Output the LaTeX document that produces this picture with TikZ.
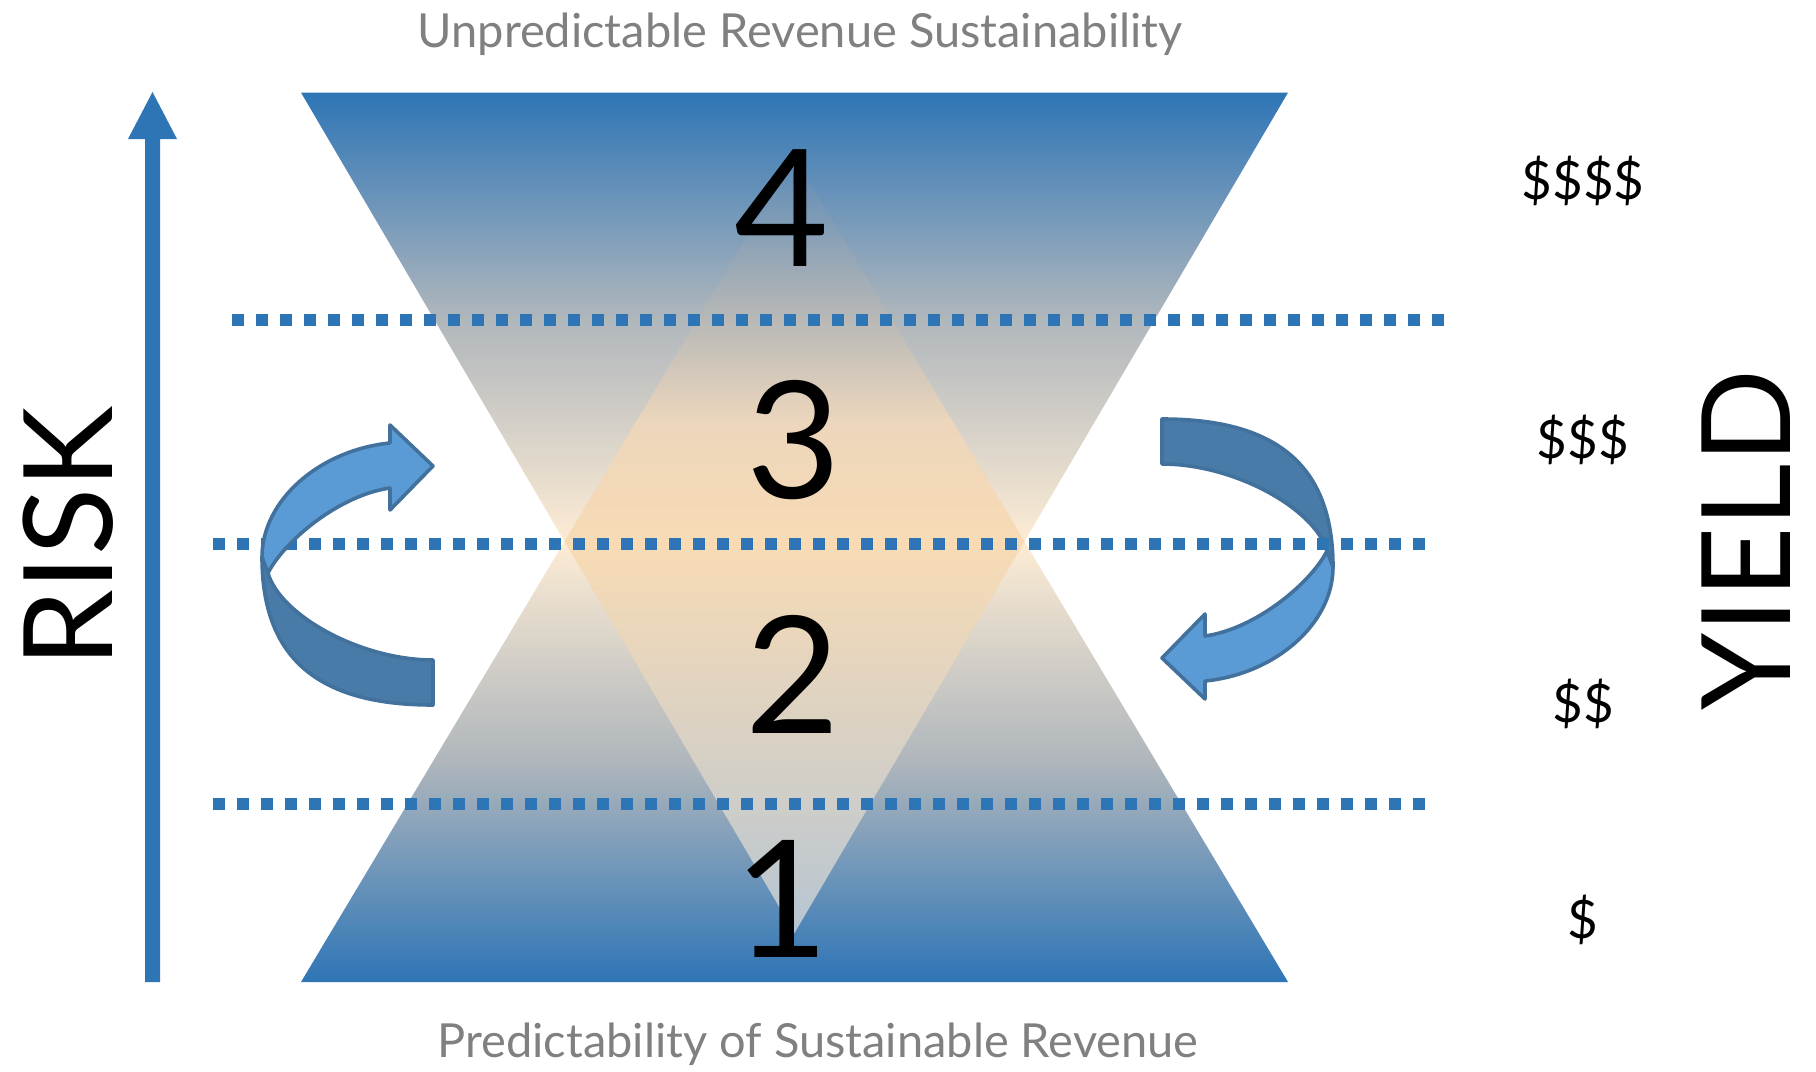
\documentclass[tikz,border=0pt]{standalone}
\usepackage{fontspec}
\setmainfont{Lato}

\definecolor{accent}{RGB}{46,117,182}
\definecolor{peach}{RGB}{253,236,212}
\definecolor{midgray}{RGB}{175,182,188}
\definecolor{coretop}{RGB}{90,138,182}
\definecolor{coreup}{RGB}{172,178,182}
\definecolor{corehigh}{RGB}{236,214,188}
\definecolor{coremid}{RGB}{248,219,181}
\definecolor{corelow}{RGB}{208,206,200}
\definecolor{corebottom}{RGB}{182,197,210}
\definecolor{arrowfront}{RGB}{91,155,213}
\definecolor{arrowback}{RGB}{72,123,168}
\definecolor{arrowline}{RGB}{65,113,156}
\definecolor{captiongray}{RGB}{128,128,128}

\pgfdeclareverticalshading{core}{100bp}{color(0bp)=(corebottom); color(25bp)=(corebottom);
  color(34bp)=(corelow); color(50bp)=(coremid); color(58bp)=(corehigh);
  color(66bp)=(coreup); color(75bp)=(coretop); color(100bp)=(coretop)}

\newcommand{\bendarrow}[1]{%
  \begin{scope}[#1]
    \filldraw[backband] (433,660) .. controls (360,660) and (280,615) .. (268,573)
      -- (262,557) .. controls (262,660) and (320,705) .. (433,705) -- cycle;
    \filldraw[frontband] (268,573) .. controls (285,540) and (340,495) .. (390,488)
      -- (390,510) -- (433,466) -- (390,425) -- (390,443)
      .. controls (320,450) and (262,500) .. (262,557) -- cycle;
  \end{scope}}

\begin{document}
\begin{tikzpicture}[x=0.25mm, y=-0.25mm,
  dotline/.style={accent, line width=3mm, dash pattern=on 3mm off 3mm},
  backband/.style={fill=arrowback, draw=arrowline, line width=0.9mm, line join=round},
  frontband/.style={fill=arrowfront, draw=arrowline, line width=0.9mm, line join=round},
  numeral/.style={anchor=base, inner sep=0pt, font=\fontsize{116}{116}\selectfont},
  price/.style={inner sep=0pt, font=\fontsize{37.7}{40}\selectfont},
  axislabel/.style={rotate=90, anchor=base, inner sep=0pt, font=\fontsize{88}{88}\selectfont},
  caption/.style={anchor=base, inner sep=0pt, text=captiongray, font=\fontsize{33.4}{36}\selectfont}]

\useasboundingbox (0,0) rectangle (1816,1071);

\coordinate (tl) at (301,92.6);
\coordinate (tr) at (1288,92.6);
\coordinate (bl) at (301,982);
\coordinate (br) at (1288,982);
\coordinate (ua) at (794.5,157);
\coordinate (da) at (794.5,933);
\coordinate (xl) at (564.5,541.4);
\coordinate (xr) at (1024.5,541.4);

\shade[top color=accent, bottom color=peach, middle color=midgray] (tl)--(tr)--(xr)--(xl)--cycle;
\shade[top color=peach, bottom color=accent, middle color=midgray] (xl)--(xr)--(br)--(bl)--cycle;
\shade[shading=core] (ua)--(xr)--(da)--(xl)--cycle;

\fill[accent] (145,982)--(145,139)--(128,139)--(152.5,92)--(177,139)--(160,139)--(160,982)--cycle;

\bendarrow{rotate around={180:(797.5,562)}}

\draw[dotline] (232,320)--(1451,320);
\draw[dotline] (213,544)--(1432,544);
\draw[dotline] (213,804)--(1432,804);

\bendarrow{}

\node (n4) at (782,266) [numeral] {4};
\node (n3) at (794,498) [numeral] {3};
\node (n2) at (793,733) [numeral] {2};
\node (n1) at (782,957) [numeral] {1};

\node (d4) at (1583,181) [price] {\$\$\$\$};
\node (d3) at (1583,440) [price] {\$\$\$};
\node (d2) at (1583,704) [price] {\$\$};
\node (d1) at (1583,920) [price] {\$};

\node (risk) at (112,537) [axislabel] {RISK};
\node (yield) at (1790,540) [axislabel] {YIELD};

\node (toptitle) at (800,47) [caption] {Unpredictable Revenue Sustainability};
\node (bottomtitle) at (818,1057) [caption] {Predictability of Sustainable Revenue};

\end{tikzpicture}
\end{document}
